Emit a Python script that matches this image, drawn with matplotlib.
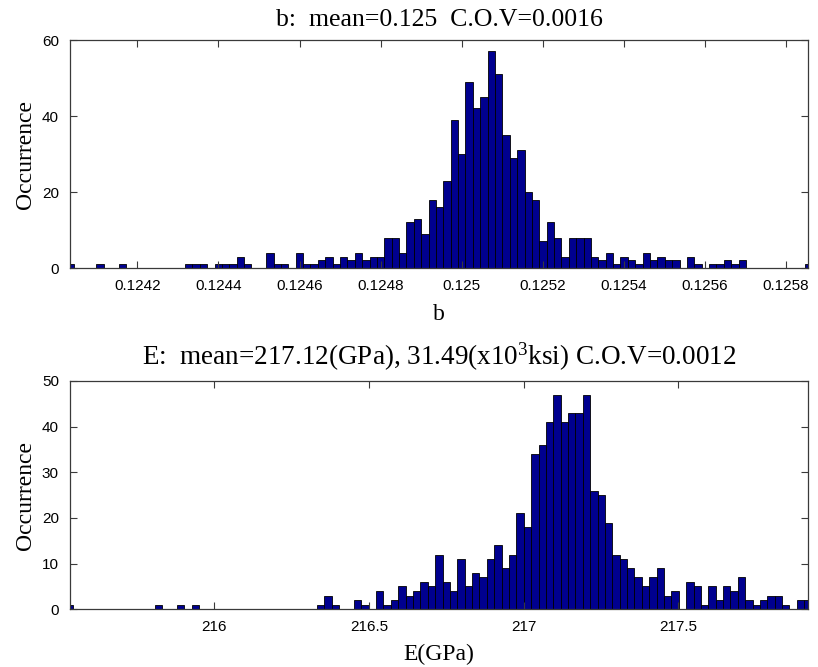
import numpy as np
import matplotlib.pyplot as plt

# histogram counts (101 bins each, 700 samples)
b_counts = [1, 0, 0, 0, 1, 0, 0, 1, 0, 0,
            0, 0, 0, 0, 0, 0, 1, 1, 1, 0,
            1, 1, 1, 3, 1, 0, 0, 4, 1, 1,
            0, 4, 1, 1, 2, 3, 1, 3, 2, 4,
            2, 3, 3, 8, 8, 4, 12, 13, 9, 18,
            16, 23, 39, 30, 49, 42, 45, 57, 51, 35,
            29, 31, 20, 18, 7, 12, 8, 3, 8, 8,
            8, 3, 2, 4, 1, 3, 2, 1, 4, 2,
            3, 2, 2, 0, 3, 1, 0, 1, 1, 2,
            1, 2, 0, 0, 0, 0, 0, 0, 0, 0,
            1]
b_first_edge = 0.12402637
b_bin_width = 1.8202e-5
b_xlim = (0.124034, 0.125854)
b_ticks = [0.1242, 0.1244, 0.1246, 0.1248, 0.125, 0.1252, 0.1254, 0.1256, 0.1258]
b_ticklabels = ['0.1242', '0.1244', '0.1246', '0.1248', '0.125',
                '0.1252', '0.1254', '0.1256', '0.1258']
b_yticks = [0, 20, 40, 60]

E_counts = [1, 0, 0, 0, 0, 0, 0, 0, 0, 0,
            0, 0, 1, 0, 0, 1, 0, 1, 0, 0,
            0, 0, 0, 0, 0, 0, 0, 0, 0, 0,
            0, 0, 0, 0, 1, 3, 1, 0, 0, 2,
            1, 0, 4, 1, 2, 5, 3, 4, 6, 5,
            12, 6, 4, 11, 5, 8, 7, 11, 14, 9,
            12, 21, 18, 34, 36, 41, 47, 41, 43, 43,
            47, 26, 25, 19, 12, 11, 9, 7, 5, 7,
            9, 3, 4, 0, 6, 5, 1, 5, 2, 5,
            4, 7, 2, 1, 2, 3, 3, 1, 0, 2,
            2]
E_first_edge = 215.5208
E_bin_width = 0.02386
E_xlim = (215.5335, 217.919)
E_ticks = [216, 216.5, 217, 217.5]
E_ticklabels = ['216', '216.5', '217', '217.5']
E_yticks = [0, 10, 20, 30, 40, 50]

plt.rcParams['mathtext.fontset'] = 'custom'
plt.rcParams['mathtext.rm'] = 'Liberation Serif'
plt.rcParams['mathtext.it'] = 'Liberation Serif:italic'

serif = 'Liberation Serif'
sans = 'Liberation Sans'
bar_color = '#00008f'
axis_color = '#3a3a3a'

fig = plt.figure(figsize=(8.18, 6.67), dpi=100)
ax1 = fig.add_axes([0.0856, 0.5982, 0.9022, 0.3418])
ax2 = fig.add_axes([0.0856, 0.0865, 0.9022, 0.3423])


def draw_hist(ax, counts, first_edge, width, xlim, ymax, xticks, xticklabels, yticks):
    edges = first_edge + width * np.arange(len(counts))
    ax.bar(edges, counts, width=width, align='edge', color=bar_color,
           edgecolor='black', linewidth=0.6)
    ax.set_xlim(*xlim)
    ax.set_ylim(0, ymax)
    ax.set_xticks(xticks)
    ax.set_xticklabels(xticklabels)
    ax.set_yticks(yticks)
    ax.tick_params(direction='in', top=True, right=True, length=5,
                   width=0.8, color=axis_color, labelsize=11, pad=8)
    for lab in ax.get_xticklabels() + ax.get_yticklabels():
        lab.set_family(sans)
    for sp in ax.spines.values():
        sp.set_color(axis_color)
        sp.set_linewidth(0.9)


draw_hist(ax1, b_counts, b_first_edge, b_bin_width, b_xlim, 60,
          b_ticks, b_ticklabels, b_yticks)
ax1.set_title('b:  mean=0.125  C.O.V=0.0016', family=serif, fontsize=18.5, pad=10)
ax1.set_xlabel('b', family=serif, fontsize=17, labelpad=8)
ax1.set_ylabel('Occurrence', family=serif, fontsize=17, labelpad=4)

draw_hist(ax2, E_counts, E_first_edge, E_bin_width, E_xlim, 50,
          E_ticks, E_ticklabels, E_yticks)
ax2.set_title(r'E:  mean=217.12(GPa), 31.49(x10$^{\mathrm{3}}$ksi) C.O.V=0.0012',
              family=serif, fontsize=19.5, pad=12)
ax2.set_xlabel('E(GPa)', family=serif, fontsize=17, labelpad=7)
ax2.set_ylabel('Occurrence', family=serif, fontsize=17, labelpad=4)

fig.savefig('out.png', dpi=100)
